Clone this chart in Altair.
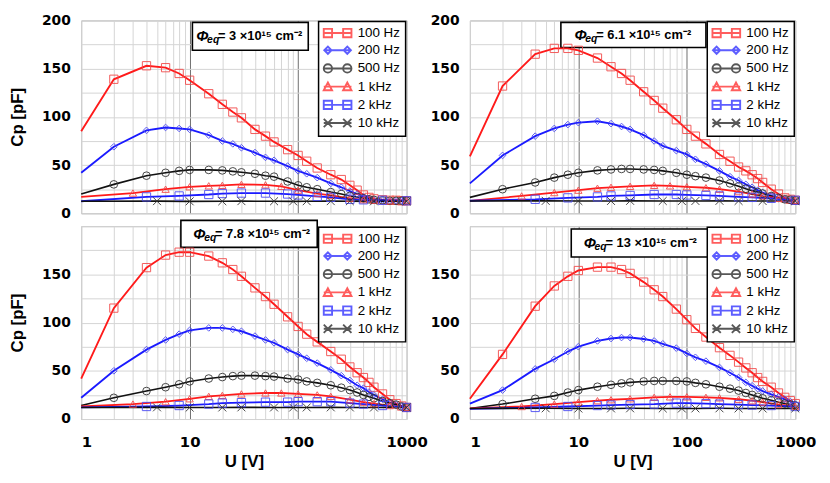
import altair as alt
import pandas as pd

# ---------------- data ----------------
SERIES = ["100 Hz", "200 Hz", "500 Hz", "1 kHz", "2 kHz", "10 kHz"]

U_A = [1, 2, 4, 6, 8, 10, 15, 20, 25, 30, 40, 50, 60, 80, 100, 120, 150, 200,
       250, 300, 350, 400, 450, 500, 600, 700, 800, 900, 1000]   # 100/200/500 Hz
U_B = [1, 3, 6, 10, 15, 20, 30, 50, 70, 100, 150, 200, 300, 400, 500, 700, 1000]  # 1 kHz
U_C = [1, 4, 8, 15, 20, 30, 50, 80, 100, 150, 200, 300, 400, 600, 1000]  # 2 kHz
U_D = [1, 5, 10, 20, 30, 60, 90, 120, 200, 300, 500, 1000]  # 10 kHz

# panel 1: 3e15
p1_100 = [85, 139, 153, 151, 145, 138, 124, 113, 105, 99, 87, 80, 74, 66, 60, 54, 47, 40,
          35, 29, 24, 19, 16.5, 15, 14, 13.5, 13.5, 13, 13]
p1_200 = [42, 69, 86, 89, 88, 87, 81, 75, 72, 68, 63, 58, 55, 49, 44, 41, 37, 31,
          27, 23, 20, 17, 15, 14, 13.5, 13, 13, 13, 13]
p1_500 = [20, 30, 39, 42, 44, 45, 45, 44.5, 43.5, 42.5, 41, 39, 38, 33, 29, 27, 25, 22,
          20, 18, 17, 15.5, 14.5, 14, 13.5, 13, 13, 13, 13]
p1_1k = [17, 21, 25, 27.5, 28.5, 29, 30, 29.5, 28, 24, 20.5, 18.5, 15.5, 14, 13.5, 13, 13]
p1_2k = [12.5, 17, 18, 19.5, 20.5, 21, 21, 20, 19, 17.5, 16.5, 14.5, 14, 13.5, 13]
p1_10k = [12.5, 12.6, 12.4, 12.5, 12.6, 12.5, 12.4, 12.5, 12.6, 12.5, 12.4, 12.5]

# panel 2: 6.1e15
p2_100 = [59, 132, 165, 171, 171, 169, 161, 152, 145, 138, 126, 117, 109, 97, 87, 80, 72, 61,
          54, 48, 44, 40, 36, 32, 25, 20, 16, 14.5, 13.5]
p2_200 = [31, 60, 80, 88, 92, 94, 95.5, 93, 90, 87, 81, 75, 70, 65, 61, 56, 51, 44,
          38, 34, 30, 27, 24, 21.5, 18, 16, 14.5, 13.5, 13]
p2_500 = [16.5, 25, 32, 37, 40, 42, 44.5, 45.5, 46, 46, 45.5, 45, 44, 42, 40, 38.5, 37, 34,
          31, 28, 25.5, 23.5, 22, 20.5, 18, 16, 14.5, 14, 13.5]
p2_1k = [13, 18, 21.5, 24, 26, 27, 28, 29, 28.5, 27.5, 26.5, 25, 22.5, 20, 18, 15.5, 13.5]
p2_2k = [13, 14.5, 16, 17, 18, 18.5, 19.5, 19.5, 19, 18.5, 18, 17, 16.5, 15.5, 13.5]
p2_10k = [12.8, 12.9, 12.7, 12.8, 12.9, 12.8, 12.7, 12.8, 12.9, 12.8, 12.7, 12.8]

# panel 3: 7.8e15
p3_100 = [42, 115, 157, 170, 173, 173, 169, 162, 155, 148, 136, 127, 119, 106, 96, 88, 80, 70,
          62, 54, 48, 43, 38, 33, 26, 20, 16, 13.5, 12]
p3_200 = [22, 50, 72, 82, 88, 92, 94.5, 94.5, 93, 91, 86, 82, 79, 72, 67, 63, 58, 51,
          45, 40, 35, 32, 28, 25, 20.5, 17, 15, 13, 12]
p3_500 = [14, 22, 29, 33, 36, 39, 42, 43.5, 44.5, 45, 45, 44.5, 44, 42, 41, 39, 37.5, 35,
          32.5, 30, 27.5, 25, 23, 21.5, 18.5, 16.5, 15, 13, 12]
p3_1k = [13, 15.5, 18, 21, 23.5, 24.5, 26, 27, 27, 26, 25, 23.5, 20, 17.5, 16, 14, 12]
p3_2k = [12, 13, 14, 15.5, 16.5, 17, 17.5, 17.5, 18, 18, 18, 16.5, 15.5, 14, 12]
p3_10k = [12, 12.1, 11.9, 12, 12.1, 12, 11.9, 12, 12.1, 12, 11.9, 12]

# panel 4: 13e15
p4_100 = [21, 67, 117, 138, 148, 154, 157.5, 157.5, 155, 151, 142, 134, 127, 114, 103, 94, 85, 74,
          66, 59, 53, 48, 43, 39, 33, 27, 22.5, 19, 16]
p4_200 = [16, 30, 52, 62, 70, 75, 81, 83.5, 84.5, 84.5, 83, 81, 78, 73.5, 68, 64, 60, 53.5,
          48, 43, 38, 34.5, 31.5, 29, 25.5, 23, 20.5, 18, 15.5]
p4_500 = [11, 15.5, 21, 24, 27.5, 30, 33.5, 35.5, 37, 38, 39, 39.5, 39.5, 39.5, 39, 37.5, 36, 33.5,
          31.5, 29.5, 27, 25, 23, 21.5, 19.5, 17.5, 16, 15, 14]
p4_1k = [11, 13, 15.5, 17.5, 19, 20, 21, 22.5, 23, 23, 22.5, 22, 20.5, 19, 17.5, 15, 13]
p4_2k = [10.5, 12, 13, 14, 14.5, 15, 15.5, 16.5, 16.5, 16, 15.5, 15, 14.5, 14, 13]
p4_10k = [11, 11.1, 10.9, 11, 11.1, 11, 10.9, 11, 11.1, 11, 10.9, 11]

PHI = ["3", "6.1", "7.8", "13"]

# ---------------- styles ----------------
U_GRIDS = [U_A, U_A, U_A, U_B, U_C, U_D]
COLORS = ["#ff1a1a", "#1a1aff", "#111111", "#ff1a1a", "#1a1aff", "#111111"]
LINE_WIDTHS = [1.9, 1.9, 1.6, 1.8, 1.8, 1.6]
MARK_COLORS = ["#f24a4a", "#4a4af2", "#333333", "#f24a4a", "#4a4af2", "#333333"]
X_PATH = "M-1,-1L1,1M-1,1L1,-1"
MARKER_SHAPES = ["square", "diamond", "circle", "triangle-up", "square", X_PATH]
MARKER_SIZES = [70, 45, 60, 55, 70, 64]


# legend key glyphs: a short line with a marker at each end (unit path, scaled/shifted)
def _p(x, y, S=2.8, O=1.5):
    return f"{x * S + O:.3f},{y * S:.3f}"


def key_path(kind):
    line = f"M{_p(-1, 0)}L{_p(1, 0)}"
    parts = [line]
    for c in (-0.7, 0.7):
        if kind == "square":
            parts.append(f"M{_p(c - 0.3, -0.3)}L{_p(c + 0.3, -0.3)}L{_p(c + 0.3, 0.3)}L{_p(c - 0.3, 0.3)}Z")
        elif kind == "diamond":
            parts.append(f"M{_p(c - 0.26, 0)}L{_p(c, -0.26)}L{_p(c + 0.26, 0)}L{_p(c, 0.26)}Z")
        elif kind == "circle":
            r = 0.3 * 2.8
            parts.append(f"M{_p(c - 0.3, 0)}A{r:.3f},{r:.3f} 0 1,0 {_p(c + 0.3, 0)}"
                         f"A{r:.3f},{r:.3f} 0 1,0 {_p(c - 0.3, 0)}Z")
        elif kind == "triangle":
            parts.append(f"M{_p(c - 0.3, 0.26)}L{_p(c, -0.3)}L{_p(c + 0.3, 0.26)}Z")
        elif kind == "x":
            parts.append(f"M{_p(c - 0.3, -0.3)}L{_p(c + 0.3, 0.3)}M{_p(c - 0.3, 0.3)}L{_p(c + 0.3, -0.3)}")
    return "".join(parts)


LEGEND_SHAPES = [key_path(k) for k in ["square", "diamond", "circle", "triangle", "square", "x"]]

# annotation box (x1, x2, y1, y2) and text anchor (x, y) per panel
BOXES = [(10.6, 124, 169, 198), (6.9, 150, 172, 198), (8.3, 150, 178, 206), (8.6, 158, 168, 197)]
TXT_POS = [(11.5, 183.5), (9.2, 185), (10.8, 192), (11.2, 182.5)]

XGRID = [1, 2, 3, 4, 5, 6, 7, 8, 9, 10, 20, 30, 40, 50, 60, 70, 80, 90,
         100, 200, 300, 400, 500, 600, 700, 800, 900, 1000]
YGRID = list(range(0, 201, 25))
TICK_FONT = "DejaVu Sans"
TITLE_FONT = "Liberation Sans"

x_scale = alt.Scale(type="log", domain=[1, 1000], nice=False)
y_scale = alt.Scale(domain=[0, 200], nice=False)
color_scale = alt.Scale(domain=SERIES, range=COLORS)
shape_scale = alt.Scale(domain=SERIES, range=LEGEND_SHAPES)


def x_axis(show):
    kw = dict(values=XGRID, grid=True,
              gridColor={"condition": {"test": "indexof([10,100], datum.value) >= 0", "value": "#6e6e6e"},
                         "value": "#d4d4d4"},
              gridWidth=1, domain=False, ticks=False, labels=show, labelOverlap=False,
              labelFlush=False)
    if show:
        kw.update(labelExpr="indexof([1,10,100,1000], datum.value) >= 0 ? format(datum.value, 'd') : ''",
                  labelAlign={"condition": {"test": "datum.value == 1", "value": "left"}, "value": "center"},
                  labelFont=TICK_FONT, labelFontWeight="bold", labelFontSize=15, labelColor="black",
                  labelPadding=16, title="U [V]", titleFont=TITLE_FONT, titleFontSize=17,
                  titleFontWeight="bold", titleColor="black", titlePadding=4)
    else:
        kw.update(title=None)
    return alt.Axis(**kw)


def y_axis(show_title, max_label):
    kw = dict(values=YGRID, grid=True, gridColor="#d4d4d4", gridWidth=1, domain=False,
              ticks=False, labelOverlap=False,
              labelExpr=f"datum.value % 50 == 0 && datum.value <= {max_label} ? datum.label : ''",
              labelFont=TICK_FONT, labelFontWeight="bold", labelFontSize=14, labelColor="black",
              labelPadding=11)
    if show_title:
        kw.update(title="Cp [pF]", titleFont=TITLE_FONT, titleFontSize=17, titleFontWeight="bold",
                  titleColor="black", titlePadding=15)
    else:
        kw.update(title=None)
    return alt.Axis(**kw)


legend = alt.Legend(title=None, orient="top-right", offset=1, padding=5, rowPadding=1.4,
                    symbolSize=100, symbolStrokeWidth=1.9, symbolFillColor="transparent",
                    labelFont=TITLE_FONT, labelFontSize=13.5, labelColor="black", labelOffset=21,
                    strokeColor="black", fillColor="white")


def panel(idx, values, show_x, show_ytitle, max_label):
    xa = x_axis(show_x)
    ya = y_axis(show_ytitle, max_label)
    X = lambda f: alt.X(f"{f}:Q", scale=x_scale, axis=xa)
    Y = lambda f: alt.Y(f"{f}:Q", scale=y_scale, axis=ya)

    rows = []
    for s, grid, vals in zip(SERIES, U_GRIDS, values):
        for u, v in zip(grid, vals):
            rows.append({"U": u, "Cp": v, "series": s})
    df = pd.DataFrame(rows)

    x1, x2, y1, y2 = BOXES[idx]
    box_df = pd.DataFrame([{"x1": x1, "x2": x2, "y1": y1, "y2": y2}])
    tx, ty = TXT_POS[idx]
    txt_df = pd.DataFrame([{"tx": tx, "ty": ty}])

    box = alt.Chart(box_df).mark_rect(fill="white", stroke="black", strokeWidth=1.6).encode(
        x=X("x1"), x2="x2", y=Y("y1"), y2="y2")
    t_phi = alt.Chart(txt_df).mark_text(text="Φ", align="left", baseline="middle", font=TITLE_FONT,
                                        fontSize=15, fontWeight="bold", fontStyle="italic",
                                        color="black").encode(x=X("tx"), y=Y("ty"))
    t_eq = alt.Chart(txt_df).mark_text(text="eq", align="left", baseline="middle", font=TITLE_FONT,
                                       fontSize=10.5, fontWeight="bold", fontStyle="italic", dx=11, dy=4,
                                       color="black").encode(x=X("tx"), y=Y("ty"))
    t_main = alt.Chart(txt_df).mark_text(text=f"= {PHI[idx]} ×10¹⁵ cm⁻²", align="left", baseline="middle",
                                         font=TITLE_FONT, fontSize=13, fontWeight="bold", dx=22,
                                         color="black").encode(x=X("tx"), y=Y("ty"))

    lines, pts = [], []
    for s, col, lw, mcol, shp, sz in zip(SERIES, COLORS, LINE_WIDTHS, MARK_COLORS, MARKER_SHAPES, MARKER_SIZES):
        sub = df[df["series"] == s]
        lines.append(alt.Chart(sub).mark_line(color=col, strokeWidth=lw).encode(x=X("U"), y=Y("Cp")))
        pts.append(alt.Chart(sub[sub["U"] > 1]).mark_point(shape=shp, filled=False, color=mcol, size=sz,
                                                          strokeWidth=1, opacity=0.9).encode(x=X("U"), y=Y("Cp")))

    leg = alt.Chart(df).transform_filter("datum.U < 0").mark_point(filled=False, strokeWidth=1.9).encode(
        x=X("U"), y=Y("Cp"),
        color=alt.Color("series:N", scale=color_scale, legend=legend),
        shape=alt.Shape("series:N", scale=shape_scale, legend=legend))

    return alt.layer(box, t_phi, t_eq, t_main, *lines, *pts, leg).properties(width=329, height=195)


P1 = panel(0, [p1_100, p1_200, p1_500, p1_1k, p1_2k, p1_10k], False, True, 200)
P2 = panel(1, [p2_100, p2_200, p2_500, p2_1k, p2_2k, p2_10k], False, False, 200)
P3 = panel(2, [p3_100, p3_200, p3_500, p3_1k, p3_2k, p3_10k], True, True, 150)
P4 = panel(3, [p4_100, p4_200, p4_500, p4_1k, p4_2k, p4_10k], True, False, 150)

chart = alt.concat(P1, P2, P3, P4, columns=2, spacing={"row": 13, "column": 64}, bounds="flush").resolve_scale(
    color="independent", shape="independent"
).configure_view(stroke="#a8a8a8", strokeWidth=1).configure_legend(strokeWidth=1.5).properties(
    padding={"left": 0, "top": 2, "right": 5, "bottom": 0}, background="white")

chart.save("out.html", embed_options={"renderer": "svg", "actions": False})
